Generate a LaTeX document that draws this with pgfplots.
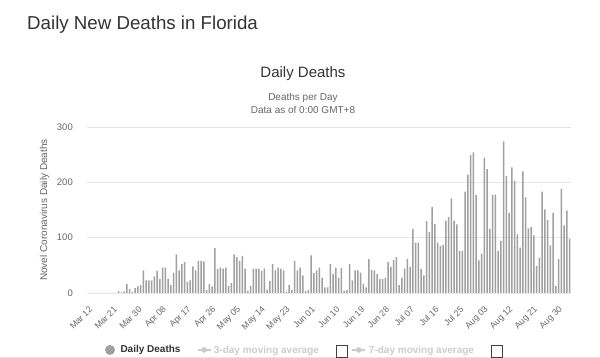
\documentclass[border=0pt]{standalone}
\usepackage{pgfplots}
\usepackage{pgfplotstable}
\pgfplotsset{compat=1.18}
\usepackage{fontspec}
\setmainfont{Liberation Sans}
\definecolor{txt}{HTML}{333333}
\definecolor{sub}{HTML}{666666}
\definecolor{gridc}{HTML}{E6E6E6}
\definecolor{barc}{HTML}{A0A0A0}
\definecolor{hid}{HTML}{CCCCCC}

\pgfplotstableread[row sep=\\]{
v\\
0\\0\\0\\0\\0\\0\\0\\0\\0\\0\\0\\
4\\1\\3\\16\\7\\2\\9\\12\\14\\41\\23\\23\\23\\30\\40\\25\\46\\46\\26\\14\\36\\70\\41\\52\\56\\20\\23\\48\\41\\58\\
58\\57\\5\\16\\12\\81\\43\\46\\44\\46\\13\\18\\70\\65\\58\\67\\44\\4\\13\\44\\44\\44\\40\\44\\6\\22\\52\\41\\46\\44\\41\\2\\14\\5\\58\\41\\46\\32\\4\\6\\68\\36\\41\\46\\
28\\10\\10\\52\\34\\46\\28\\45\\4\\5\\52\\23\\41\\41\\37\\16\\10\\61\\42\\41\\34\\25\\25\\27\\56\\47\\60\\65\\14\\
28\\44\\61\\47\\116\\91\\91\\43\\32\\130\\110\\155\\125\\91\\85\\87\\131\\137\\171\\131\\124\\76\\76\\183\\214\\249\\254\\177\\59\\71\\244\\224\\116\\
177\\178\\76\\94\\274\\211\\145\\227\\203\\106\\82\\220\\173\\117\\119\\104\\49\\64\\183\\151\\132\\86\\145\\13\\61\\188\\122\\149\\98\\
}\deaths

\newcommand{\chk}{\raisebox{-3.5pt}{\color{black!75}\setlength{\fboxsep}{0pt}\setlength{\fboxrule}{0.8pt}\fbox{\rule{0pt}{10.5pt}\hspace{10.5pt}}}}

\begin{document}
\begin{tikzpicture}[x=1pt,y=1pt]
\path[use as bounding box] (0,0) rectangle (600,358);
\draw[gridc, line width=0.8pt] (0,0.4) -- (600,0.4);
\node[anchor=base west, inner sep=0pt, text=txt, font=\fontsize{18.7}{22}\selectfont] at (27,328.5) {Daily New Deaths in Florida};
\node[anchor=base, inner sep=0pt, text=txt, font=\fontsize{15}{18}\selectfont] at (303,280.5) {Daily Deaths};
\node[anchor=base, inner sep=0pt, text=sub, font=\fontsize{10}{12}\selectfont] at (303,257.5) {Deaths per Day};
\node[anchor=base, inner sep=0pt, text=sub, font=\fontsize{10}{12}\selectfont] at (303,244.5) {Data as of 0:00 GMT+8};
\node[rotate=90, inner sep=0pt, text=sub, font=\fontsize{10}{12}\selectfont] at (44.5,148) {Novel Coronavirus Daily Deaths};
\begin{axis}[
  at={(87pt,65pt)}, anchor=south west,
  scale only axis, width=484pt, height=166pt,
  xmin=-0.5, xmax=175.5, ymin=0, ymax=300,
  axis line style={draw=none},
  major tick length=0pt,
  ytick={0,100,200,300},
  ymajorgrids,
  grid style={gridc, line width=0.8pt},
  xtick={0,9,...,171},
  xticklabels={Mar 12,Mar 21,Mar 30,Apr 08,Apr 17,Apr 26,May 05,May 14,May 23,Jun 01,Jun 10,Jun 19,Jun 28,Jul 07,Jul 16,Jul 25,Aug 03,Aug 12,Aug 21,Aug 30},
  xticklabel style={xshift=2.5pt, yshift=-15pt, rotate=45, anchor=east, inner sep=0pt, text=sub, font=\fontsize{8.8}{10}\selectfont},
  yticklabel style={xshift=-14pt, anchor=east, inner sep=0pt, text=sub, font=\fontsize{9.5}{11}\selectfont},
  /pgf/number format/assume math mode=true,
  legend columns=-1,
  legend style={draw=none, fill=none, inner sep=0pt, outer sep=0pt, column sep=0pt,
    nodes={inner sep=0pt}, font=\bfseries\fontsize{10}{12}\selectfont, text=txt,
    at={(axis description cs:0.0372,-0.343)}, anchor=west},
]
\addplot[ybar, bar width=1.6pt, bar shift=0pt, fill=barc, draw=none,
  legend image code/.code={\fill[barc] (5pt,0pt) circle (5pt);}]
  table[x expr=\coordindex, y=v] {\deaths};
\addlegendentry{\rule{5.5pt}{0pt}Daily Deaths\rule{16.5pt}{0pt}}
\addlegendimage{legend image code/.code={\draw[hid, line width=1.4pt] (0pt,0pt)--(13pt,0pt); \fill[hid] (6.5pt,0pt) circle (2.6pt);}}
\addlegendentry{\rule{2.5pt}{0pt}\textcolor{hid}{3-day moving average}\rule{17pt}{0pt}\chk\rule{3.5pt}{0pt}}
\addlegendimage{legend image code/.code={\draw[hid, line width=1.4pt] (0pt,0pt)--(13pt,0pt); \fill[hid] (6.5pt,0pt) circle (2.6pt);}}
\addlegendentry{\rule{3pt}{0pt}\textcolor{hid}{7-day moving average}\rule{17pt}{0pt}\chk}
\end{axis}
\end{tikzpicture}
\end{document}
